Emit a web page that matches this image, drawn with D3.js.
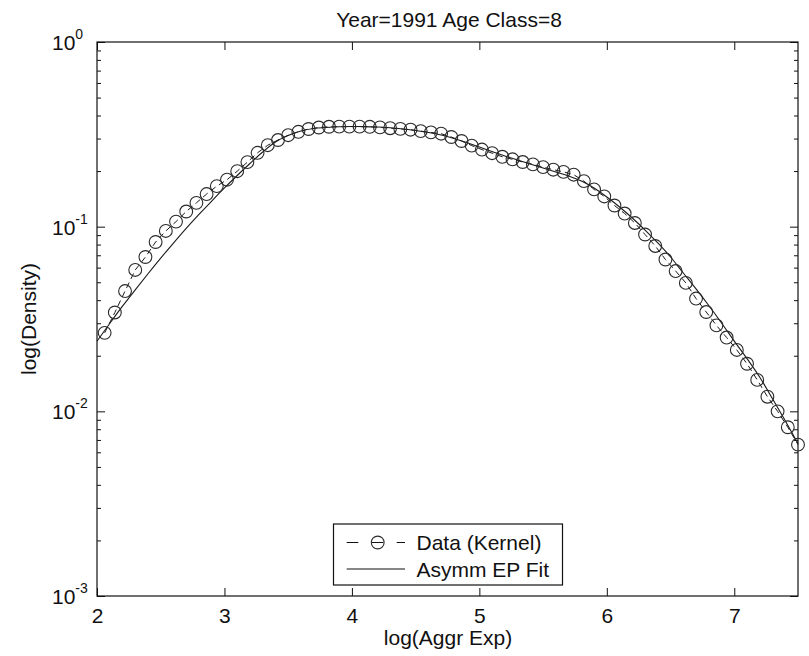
<!DOCTYPE html>
<html>
<head>
<meta charset="utf-8">
<script src="https://cdn.jsdelivr.net/npm/d3@7"></script>
<style>
  html, body { margin: 0; padding: 0; background: #fff; }
  svg { display: block; }
  text { font-family: "Liberation Sans", Arial, sans-serif; fill: #111; }
</style>
</head>
<body>
<svg id="chart" width="809" height="656"></svg>
<script>
// Kernel density estimate (circles), evaluated on an even grid of log(Aggr Exp)
const kernelX = [
  2.06, 2.14, 2.22, 2.30, 2.38, 2.46, 2.54, 2.62, 2.70, 2.78,
  2.86, 2.94, 3.02, 3.10, 3.18, 3.26, 3.34, 3.42, 3.50, 3.58,
  3.66, 3.74, 3.82, 3.90, 3.98, 4.06, 4.14, 4.22, 4.30, 4.38,
  4.46, 4.54, 4.62, 4.70, 4.78, 4.86, 4.94, 5.02, 5.10, 5.18,
  5.26, 5.34, 5.42, 5.50, 5.58, 5.66, 5.74, 5.82, 5.90, 5.98,
  6.06, 6.14, 6.22, 6.30, 6.38, 6.46, 6.54, 6.62, 6.70, 6.78,
  6.86, 6.94, 7.02, 7.10, 7.18, 7.26, 7.34, 7.42, 7.50
];
const kernelDensity = [
  0.0266, 0.0343, 0.0448, 0.0583, 0.0685, 0.0826, 0.0948, 0.1065, 0.1208, 0.1346,
  0.1502, 0.1658, 0.1796, 0.1997, 0.2237, 0.2512, 0.2762, 0.2946, 0.3128, 0.3264,
  0.3380, 0.3443, 0.3475, 0.3480, 0.3482, 0.3480, 0.3474, 0.3448, 0.3413, 0.3384,
  0.3350, 0.3292, 0.3239, 0.3187, 0.3059, 0.2910, 0.2748, 0.2615, 0.2500, 0.2390,
  0.2316, 0.2239, 0.2174, 0.2102, 0.2035, 0.1980, 0.1912, 0.1765, 0.1591, 0.1458,
  0.1302, 0.1178, 0.1047, 0.0907, 0.0786, 0.0664, 0.0575, 0.0496, 0.0408, 0.0345,
  0.0292, 0.0251, 0.0215, 0.0181, 0.0148, 0.0120, 0.0100, 0.0082, 0.0066
];

// Asymmetric exponential power fit (solid line)
const fitX = [
  2.0, 2.1, 2.2, 2.3, 2.4, 2.5, 2.6, 2.7, 2.8, 2.9,
  3.0, 3.1, 3.2, 3.3, 3.4, 3.5, 3.6, 3.7, 3.8, 3.9,
  4.0, 4.1, 4.2, 4.3, 4.4, 4.5, 4.6, 4.7, 4.8, 4.9,
  5.0, 5.1, 5.2, 5.3, 5.4, 5.5, 5.6, 5.7, 5.8, 5.9,
  6.0, 6.1, 6.2, 6.3, 6.4, 6.5, 6.6, 6.7, 6.8, 6.9,
  7.0, 7.1, 7.2, 7.3, 7.4, 7.5
];
const fitDensity = [
  0.0240, 0.0299, 0.0371, 0.0455, 0.0556, 0.0676, 0.0815, 0.0978, 0.1164, 0.1377,
  0.1620, 0.1893, 0.2198, 0.2537, 0.2874, 0.3116, 0.3296, 0.3401, 0.3443, 0.3474,
  0.3487, 0.3483, 0.3465, 0.3430, 0.3380, 0.3317, 0.3235, 0.3136, 0.3002, 0.2856,
  0.2700, 0.2553, 0.2414, 0.2296, 0.2185, 0.2078, 0.1977, 0.1881, 0.1767, 0.1620,
  0.1447, 0.1278, 0.1114, 0.0959, 0.0816, 0.0685, 0.0561, 0.0460, 0.0374, 0.0301,
  0.0240, 0.0193, 0.0153, 0.0117, 0.0089, 0.0067
];

const xTicks = [2, 3, 4, 5, 6, 7];
const yDecades = [1e-3, 1e-2, 1e-1, 1];
const yExponents = ["-3", "-2", "-1", "0"];

const titleText = "Year=1991 Age Class=8";
const xLabel = "log(Aggr Exp)";
const yLabel = "log(Density)";
const legendLabels = ["Data (Kernel)", "Asymm EP Fit"];

// ---- layout ----
const plot = { left: 97, right: 798, top: 42, bottom: 596 };
const svg = d3.select("#chart");
svg.append("rect").attr("width", 809).attr("height", 656).attr("fill", "#fff");

const x = d3.scaleLinear().domain([2, 7.5]).range([plot.left, plot.right]);
const y = d3.scaleLog().domain([1e-3, 1]).range([plot.bottom, plot.top]);

const majorLen = 8, minorLen = 4;
const fontSize = 21;
const markerR = 6.4;

// y minor ticks: 2..9 times each decade
const yMinor = y.ticks().filter(v => !yDecades.some(d => Math.abs(v / d - 1) < 1e-9));

function styleAxis(g) {
  g.select(".domain").remove();
  g.selectAll(".tick line").attr("stroke", "#111").attr("stroke-width", 1);
}

// bottom axis with labels
svg.append("g")
  .attr("transform", `translate(0,${plot.bottom})`)
  .call(d3.axisBottom(x).tickValues(xTicks).tickSize(-majorLen).tickPadding(12).tickFormat(d3.format("d")))
  .call(styleAxis)
  .call(g => g.selectAll("text").attr("font-size", fontSize).attr("font-family", "Liberation Sans, Arial, sans-serif").attr("fill", "#111"));

// top axis, ticks only
svg.append("g")
  .attr("transform", `translate(0,${plot.top})`)
  .call(d3.axisTop(x).tickValues(xTicks).tickSize(-majorLen).tickFormat(""))
  .call(styleAxis);

// left and right log axes: major + minor ticks
[[d3.axisLeft, plot.left], [d3.axisRight, plot.right]].forEach(([axisFn, px]) => {
  svg.append("g")
    .attr("transform", `translate(${px},0)`)
    .call(axisFn(y).tickValues(yDecades).tickSize(-majorLen).tickFormat(""))
    .call(styleAxis);
  svg.append("g")
    .attr("transform", `translate(${px},0)`)
    .call(axisFn(y).tickValues(yMinor).tickSize(-minorLen).tickFormat(""))
    .call(styleAxis);
});

// y tick labels as powers of ten
const yLab = svg.append("g");
yDecades.forEach((v, i) => {
  const t = yLab.append("text")
    .attr("x", 52)
    .attr("y", y(v) + 8)
    .attr("font-size", fontSize);
  t.append("tspan").text("10");
  t.append("tspan").attr("font-size", 14).attr("dy", -11).text(yExponents[i]);
});

// plot frame
svg.append("rect")
  .attr("x", plot.left).attr("y", plot.top)
  .attr("width", plot.right - plot.left).attr("height", plot.bottom - plot.top)
  .attr("fill", "none").attr("stroke", "#111").attr("stroke-width", 1.2);

// ---- series ----
const fitPts = fitX.map((v, i) => [v, fitDensity[i]]);
const kernelPts = kernelX.map((v, i) => [v, kernelDensity[i]]);

const fitLine = d3.line().x(d => x(d[0])).y(d => y(d[1])).curve(d3.curveMonotoneX);
svg.append("path")
  .datum(fitPts)
  .attr("d", fitLine)
  .attr("fill", "none").attr("stroke", "#1a1a1a").attr("stroke-width", 1.1);

const dataLine = d3.line().x(d => x(d[0])).y(d => y(d[1]));
svg.append("path")
  .datum(kernelPts)
  .attr("d", dataLine)
  .attr("fill", "none").attr("stroke", "#1a1a1a").attr("stroke-width", 1)
  .attr("stroke-dasharray", "6,4");

svg.append("g").selectAll("circle")
  .data(kernelPts)
  .join("circle")
  .attr("cx", d => x(d[0]))
  .attr("cy", d => y(d[1]))
  .attr("r", markerR)
  .attr("fill", "none")
  .attr("stroke", "#2a2a2a")
  .attr("stroke-width", 1.1);

// ---- legend ----
const lg = svg.append("g");
lg.append("rect")
  .attr("x", 333.5).attr("y", 524).attr("width", 229).attr("height", 61)
  .attr("fill", "#fff").attr("stroke", "#111").attr("stroke-width", 1.2);
lg.append("line")
  .attr("x1", 346.7).attr("x2", 405).attr("y1", 542.5).attr("y2", 542.5)
  .attr("stroke", "#111").attr("stroke-width", 1.1).attr("stroke-dasharray", "11.6,13.4");
lg.append("circle")
  .attr("cx", 377.7).attr("cy", 542.5).attr("r", markerR)
  .attr("fill", "none").attr("stroke", "#2a2a2a").attr("stroke-width", 1.1);
lg.append("line")
  .attr("x1", 346.7).attr("x2", 405).attr("y1", 569).attr("y2", 569)
  .attr("stroke", "#111").attr("stroke-width", 1.1);
lg.append("text").attr("x", 416.5).attr("y", 550).attr("font-size", fontSize).text(legendLabels[0]);
lg.append("text").attr("x", 416.5).attr("y", 576.5).attr("font-size", fontSize).text(legendLabels[1]);

// ---- titles ----
svg.append("text")
  .attr("x", 449).attr("y", 27)
  .attr("text-anchor", "middle").attr("font-size", fontSize)
  .text(titleText);
svg.append("text")
  .attr("x", 448).attr("y", 645)
  .attr("text-anchor", "middle").attr("font-size", fontSize)
  .text(xLabel);
svg.append("text")
  .attr("transform", `translate(36,${(plot.top + plot.bottom) / 2}) rotate(-90)`)
  .attr("text-anchor", "middle").attr("font-size", fontSize)
  .text(yLabel);
</script>
</body>
</html>
